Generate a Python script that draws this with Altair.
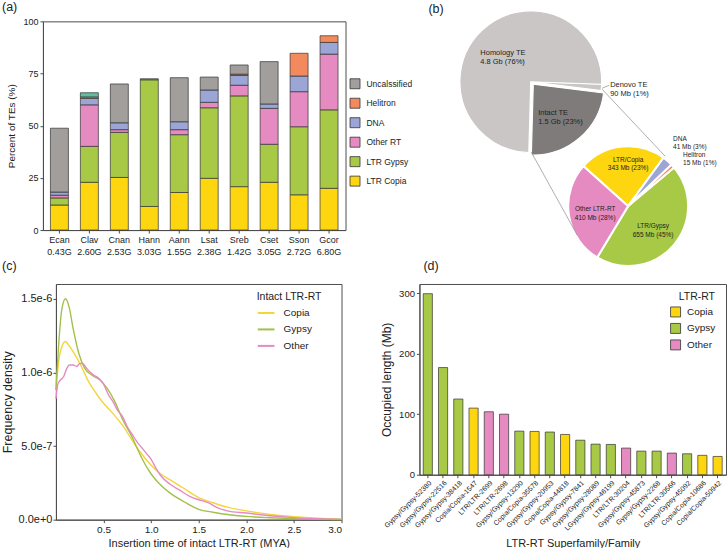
import math
import altair as alt
import pandas as pd

FONT = "Liberation Sans"
INK = "#222222"
FRAME = "#4d4d4d"

# ---------------- panel (a) data ----------------
species = ["Ecan", "Clav", "Cnan", "Hann", "Aann", "Lsat", "Sreb", "Cset", "Sson", "Gcor"]
genome_sizes = ["0.43G", "2.60G", "2.53G", "3.03G", "1.55G", "2.38G", "1.42G", "3.05G", "2.72G", "6.80G"]
ltr_copia = [12.0, 22.9, 25.2, 11.3, 18.0, 24.8, 20.8, 22.9, 16.9, 20.0]
ltr_gypsy = [3.4, 17.2, 21.6, 60.7, 27.7, 33.8, 43.5, 18.2, 32.6, 37.6]
other_rt = [1.3, 19.9, 1.3, 0.0, 2.4, 2.6, 5.1, 17.2, 16.8, 26.7]
dna = [1.5, 3.1, 3.3, 0.0, 3.8, 5.9, 4.7, 2.1, 7.5, 5.6]
helitron = [0.0, 0.7, 0.0, 0.0, 0.0, 0.0, 0.6, 0.0, 10.9, 3.2]
misc_te = [0.0, 2.0, 0.0, 0.0, 0.0, 0.0, 0.0, 0.0, 0.0, 0.0]
unclassified = [30.6, 0.0, 18.6, 0.5, 21.1, 6.2, 4.4, 20.3, 0.0, 0.0]

a_legend = ["Uncalssified", "Helitron", "DNA", "Other RT", "LTR Gypsy", "LTR Copia"]
a_domain = a_legend + ["Misc"]
a_colors = ["#a19e9c", "#f38a5e", "#9ba6d6", "#e68bc1", "#a8c945", "#fdd60f", "#5fbf9f"]

# ---------------- panel (b) data ----------------
te_names = ["Denovo TE", "Intact TE", "Homology TE"]
te_sizes_mb = [90, 1500, 4800]
te_colors = ["#c9c6c5", "#7e7b7a", "#c9c6c5"]
intact_names = ["LTR/Gypsy", "Other LTR-RT", "LTR/Copia", "DNA", "Helitron"]
intact_sizes_mb = [655, 410, 343, 41, 15]
intact_colors = ["#a8c945", "#e68bc1", "#fdd60f", "#9ba6d6", "#f38a5e"]

# ---------------- panel (c) data (density, units of 1e-6) ----------------
copia_t = [0, 0.03, 0.06, 0.1, 0.14, 0.2, 0.26, 0.34, 0.42, 0.5, 0.6, 0.7, 0.85, 1.0, 1.1, 1.2, 1.35, 1.5, 1.65, 1.8, 2.0, 2.25, 2.5, 2.75, 3.0]
copia_d = [0.88, 1.08, 1.17, 1.21, 1.18, 1.12, 1.05, 0.94, 0.86, 0.79, 0.72, 0.64, 0.49, 0.37, 0.31, 0.27, 0.21, 0.15, 0.115, 0.085, 0.06, 0.035, 0.02, 0.01, 0.004]
gypsy_t = [0, 0.03, 0.06, 0.1, 0.14, 0.18, 0.24, 0.3, 0.38, 0.46, 0.54, 0.62, 0.7, 0.8, 0.85, 0.9, 1.0, 1.1, 1.2, 1.35, 1.5, 1.65, 1.8, 2.0, 2.25, 2.5, 2.75, 3.0]
gypsy_d = [0.88, 1.2, 1.42, 1.50, 1.44, 1.30, 1.13, 1.03, 0.98, 0.95, 0.89, 0.80, 0.68, 0.56, 0.49, 0.42, 0.31, 0.235, 0.18, 0.12, 0.07, 0.05, 0.035, 0.022, 0.013, 0.007, 0.003, 0.001]
other_t = [0, 0.02, 0.05, 0.08, 0.11, 0.14, 0.18, 0.22, 0.25, 0.28, 0.32, 0.36, 0.4, 0.45, 0.5, 0.55, 0.6, 0.65, 0.7, 0.75, 0.8, 0.85, 0.9, 0.95, 1.0, 1.05, 1.1, 1.2, 1.3, 1.4, 1.5, 1.6, 1.7, 1.8, 2.0, 2.25, 2.5, 2.75, 3.0]
other_d = [0.82, 0.92, 0.95, 0.97, 1.02, 1.05, 1.05, 1.04, 1.06, 1.06, 1.03, 1.0, 0.98, 0.96, 0.92, 0.85, 0.80, 0.74, 0.70, 0.63, 0.58, 0.53, 0.49, 0.45, 0.41, 0.35, 0.30, 0.24, 0.20, 0.16, 0.135, 0.115, 0.08, 0.06, 0.045, 0.027, 0.014, 0.006, 0.002]
ltr_types = ["Copia", "Gypsy", "Other"]
line_colors = ["#f5d43a", "#a3c04a", "#e68bc1"]
bar_colors = ["#fdd60f", "#a8c945", "#e68bc1"]

# ---------------- panel (d) data ----------------
families = ["Gypsy/Gypsy-52380", "Gypsy/Gypsy-22516", "Gypsy/Gypsy-38418", "Copia/Copia-1547",
            "LTR/LTR-2699", "LTR/LTR-2698", "Gypsy/Gypsy-13290", "Copia/Copia-35578",
            "Gypsy/Gypsy-20953", "Copia/Copia-44818", "Gypsy/Gypsy-7841", "Gypsy/Gypsy-28089",
            "LGypsy/Gypsy-46199", "LTR/LTR-30204", "Gypsy/Gypsy-45873", "Gypsy/Gypsy-2268",
            "LTR/LTR-30566", "Gypsy/Gypsy-45092", "Copia/Copia-10686", "Copia/Copia-50942"]
family_types = ["Gypsy", "Gypsy", "Gypsy", "Copia", "Other", "Other", "Gypsy", "Copia", "Gypsy", "Copia",
                "Gypsy", "Gypsy", "Gypsy", "Other", "Gypsy", "Gypsy", "Other", "Gypsy", "Copia", "Copia"]
family_mb = [299, 177, 125, 110, 104, 100, 72, 71.5, 70.5, 66.5, 57, 50.5, 50, 44, 39, 39, 35.7, 34.6, 32, 30.2]

# ================= build panel (a) + (b) =================
AX, AY = 41, 22  # absolute position of panel (a) plot origin


def P(x, y):
    return x - AX, y - AY


stack_parts = [("LTR Copia", ltr_copia), ("LTR Gypsy", ltr_gypsy), ("Other RT", other_rt), ("DNA", dna),
               ("Helitron", helitron), ("Misc", misc_te), ("Uncalssified", unclassified)]
rows = []
x_order = [s + "\n" + g for s, g in zip(species, genome_sizes)]
for i, lab in enumerate(x_order):
    for k, (cat, vals) in enumerate(stack_parts):
        if vals[i] > 0:
            rows.append({"sp": lab, "cat": cat, "pct": vals[i], "k": k})
df_a = pd.DataFrame(rows)

bars = alt.Chart(df_a).mark_bar(stroke="#333333", strokeWidth=0.7).encode(
    x=alt.X("sp:N", sort=x_order, title=None,
            scale=alt.Scale(paddingInner=0.4, paddingOuter=0.25),
            axis=alt.Axis(labelAngle=0, labelExpr="split(datum.label, '\\n')", labelFontSize=9,
                          labelLineHeight=12, tickSize=3, labelPadding=2, labelBaseline="top")),
    y=alt.Y("pct:Q", stack="zero", scale=alt.Scale(domain=[0, 100], nice=False), title="Percent of TEs (%)",
            axis=alt.Axis(values=[0, 25, 50, 75, 100], labelFontSize=9, titleFontSize=10, titlePadding=6,
                          tickSize=3, labelPadding=2)),
    color=alt.Color("cat:N", scale=alt.Scale(domain=a_domain, range=a_colors),
                    legend=alt.Legend(values=a_legend, title=None, orient="none", legendX=307, legendY=57,
                                      symbolType="square", symbolSize=100, symbolStrokeColor="#333333",
                                      symbolStrokeWidth=0.8, labelFontSize=8.5, rowPadding=4.5,
                                      labelOffset=6, labelColor=INK)),
    order=alt.Order("k:Q", sort="ascending"),
)


def pie_frame(names, sizes):
    cum = 0
    out = []
    for n, s in zip(names, sizes):
        out.append({"name": n, "size": s, "start": cum, "end": cum + s})
        cum += s
    return pd.DataFrame(out), cum


def arc_layer(df, total, names, colors, rot_deg, cx, cy, r, only=None, exclude=None, sw=1.2):
    ch = alt.Chart(df)
    if only is not None:
        ch = ch.transform_filter(alt.datum.name == only)
    if exclude is not None:
        ch = ch.transform_filter(alt.datum.name != exclude)
    rot = math.radians(rot_deg)
    px, py = P(cx, cy)
    return ch.mark_arc(radius=r, stroke="white", strokeWidth=sw).encode(
        theta=alt.Theta("start:Q", scale=alt.Scale(domain=[0, total], range=[rot, rot + 2 * math.pi])),
        theta2=alt.Theta2("end:Q"),
        color=alt.Color("name:N", scale=alt.Scale(domain=names, range=colors), legend=None),
        x=alt.value(px), y=alt.value(py),
    )


big_df, big_total = pie_frame(te_names, te_sizes_mb)
small_df, small_total = pie_frame(intact_names, intact_sizes_mb)

big_rest = arc_layer(big_df, big_total, te_names, te_colors, 92, 529.5, 82.5, 71, exclude="Intact TE")
big_intact = arc_layer(big_df, big_total, te_names, te_colors, 92, 532.0, 85.0, 71, only="Intact TE")
small_pie = arc_layer(small_df, small_total, intact_names, intact_colors, 50, 627, 207, 60, sw=2)


def seg(x1, y1, x2, y2, color="#9a9a9a", w=0.8):
    a1, b1 = P(x1, y1)
    a2, b2 = P(x2, y2)
    return alt.Chart(pd.DataFrame({"k": [0]})).mark_rule(color=color, strokeWidth=w).encode(
        x=alt.value(a1), y=alt.value(b1), x2=alt.value(a2), y2=alt.value(b2))


def label(text, x, y, size=7.5, align="left", lh=9.0, weight="normal"):
    n = text.count("\n")
    px, py = P(x, y + n * lh / 2.0)
    return alt.Chart(pd.DataFrame({"t": [text]})).mark_text(
        align=align, baseline="middle", fontSize=size, lineBreak="\n", lineHeight=lh,
        font=FONT, color=INK, fontWeight=weight).encode(
        text="t:N", x=alt.value(px), y=alt.value(py))


top_layers = [
    bars,
    big_rest, big_intact, small_pie,
    seg(601, 90, 664, 157), seg(530, 153, 576, 236), seg(601, 89, 608, 86),
    label("Homology TE\n4.8 Gb (76%)", 479, 49.3),
    label("Denovo TE\n90 Mb (1%)", 609, 81),
    label("Intact TE\n1.5 Gb (23%)", 537, 109.5),
    label("DNA\n41 Mb (3%)", 672, 136, size=6.5, lh=8),
    label("Helitron\n15 Mb (1%)", 682, 152, size=6.5, lh=8),
    label("LTR/Copia\n343 Mb (23%)", 627, 157, size=6.5, align="center", lh=8),
    label("Other LTR-RT\n410 Mb (28%)", 594, 206, size=6.5, align="center", lh=8.5),
    label("LTR/Gypsy\n655 Mb (45%)", 652, 222, size=6.5, align="center", lh=9),
    label("(a)", 0, 8, size=12.5),
    label("(b)", 427, 10, size=12.5),
    label("(c)", 0, 267, size=12.5),
    label("(d)", 422, 267, size=12.5),
]
top = alt.layer(*top_layers).resolve_scale(color="independent", theta="independent").properties(
    width=303, height=209)

# ================= panel (c) =================
crow = []
for name, ts, ds in [("Copia", copia_t, copia_d), ("Gypsy", gypsy_t, gypsy_d), ("Other", other_t, other_d)]:
    for t, d in zip(ts, ds):
        crow.append({"type": name, "t": t, "dens": d * 1e-6})
df_c = pd.DataFrame(crow)

panel_c = alt.Chart(df_c).mark_line(strokeWidth=1.4, interpolate="monotone").encode(
    x=alt.X("t:Q", scale=alt.Scale(domain=[0, 3], nice=False), title="Insertion time of intact LTR-RT (MYA)",
            axis=alt.Axis(values=[0.5, 1.0, 1.5, 2.0, 2.5, 3.0], format=".1f", labelFontSize=10,
                          titleFontSize=11, tickSize=3, labelPadding=2, titlePadding=3)),
    y=alt.Y("dens:Q", scale=alt.Scale(domain=[0, 1.6e-6], nice=False), title="Frequency density",
            axis=alt.Axis(values=[0, 5e-7, 1e-6, 1.5e-6], format=".1e", labelFontSize=11,
                          titleFontSize=12.5, tickSize=3, labelPadding=1, titlePadding=4)),
    color=alt.Color("lt:N", scale=alt.Scale(domain=ltr_types, range=line_colors),
                    legend=alt.Legend(title="Intact LTR-RT", orient="none", legendX=214, legendY=8,
                                      symbolType="stroke", symbolSize=280, symbolStrokeWidth=2,
                                      labelFontSize=10, titleFontSize=10.5, titleFontWeight="normal",
                                      rowPadding=1.5, labelOffset=8, titlePadding=1, labelColor=INK,
                                      titleColor=INK)),
).transform_calculate(lt="datum.type").properties(width=286, height=236)

# ================= panel (d) =================
df_d = pd.DataFrame({"fam": families, "type": family_types, "mb": family_mb})
panel_d = alt.Chart(df_d).mark_bar(stroke="#333333", strokeWidth=0.7).encode(
    x=alt.X("fam:N", sort=families, title="LTR-RT Superfamily/Family",
            scale=alt.Scale(paddingInner=0.4, paddingOuter=0.25),
            axis=alt.Axis(labelAngle=-45, labelFontSize=7, tickSize=3, labelPadding=1,
                          titleFontSize=11, titlePadding=6)),
    y=alt.Y("mb:Q", scale=alt.Scale(domain=[0, 315], nice=False), title="Occupied length (Mb)",
            axis=alt.Axis(values=[0, 100, 200, 300], labelFontSize=9.5, titleFontSize=12, tickSize=3,
                          labelPadding=2, titlePadding=5)),
    color=alt.Color("type:N", scale=alt.Scale(domain=ltr_types, range=bar_colors),
                    legend=alt.Legend(title="LTR-RT", orient="none", legendX=251, legendY=8,
                                      symbolType="square", symbolSize=100, symbolStrokeColor="#333333",
                                      symbolStrokeWidth=0.8, labelFontSize=10, titleFontSize=10.5,
                                      titleFontWeight="normal", rowPadding=1.5, labelOffset=6,
                                      titleAnchor="end", titlePadding=4, labelColor=INK, titleColor=INK)),
).properties(width=307, height=191)

# invisible 1px anchor so that panel (c) can sit further right than panel (a)
anchor = alt.Chart(pd.DataFrame({"k": [0]})).mark_rect(opacity=0).encode(
    x=alt.value(0), x2=alt.value(1), y=alt.value(0), y2=alt.value(1)).properties(
    width=1, height=1, view=alt.ViewBackground(strokeOpacity=0))

left_bottom = alt.hconcat(anchor, panel_c, spacing=-44)
bottom = alt.hconcat(left_bottom, panel_d, spacing=34).resolve_scale(color="independent")

chart = alt.vconcat(top, bottom, spacing=10).resolve_scale(
    color="independent").properties(padding=0, background="white").configure(
    font=FONT
).configure_view(stroke=FRAME, strokeWidth=1).configure_axis(
    grid=False, domainColor=FRAME, tickColor=FRAME, labelColor=INK, titleColor=INK,
    titleFontWeight="normal", labelFont=FONT, titleFont=FONT
).configure_legend(labelFont=FONT, titleFont=FONT)

chart.save("out.html", embed_options={"renderer": "svg", "actions": False})
